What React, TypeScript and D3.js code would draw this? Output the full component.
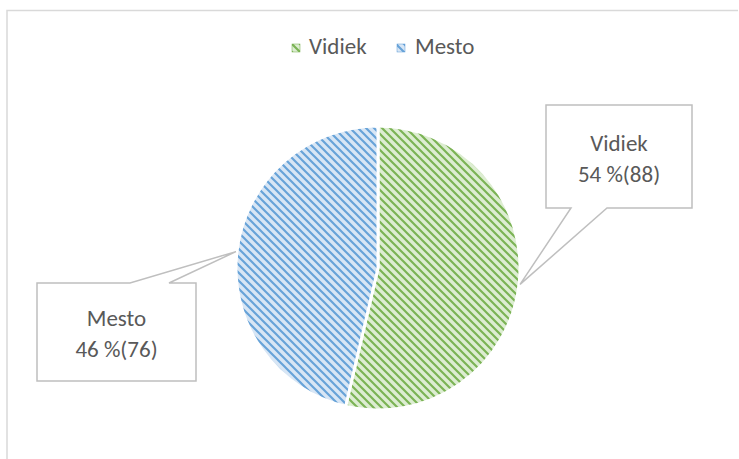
import React from "react";
import * as d3 from "d3";

const categories = ["Vidiek", "Mesto"];
const counts = [88, 76];
const darkColors = ["#70AD47", "#5B9BD5"];
const lightColors = ["#DDEDD2", "#D8E6F5"];

const W = 739;
const H = 459;
const cx = 378;
const cy = 268;
const R = 142;
const FONT = "Carlito, 'Open Sans', 'Noto Sans', sans-serif";
const TEXT = "#595959";
const FS = 23;

// callout boxes (layout)
const boxes = [
  { x: 546, y: 105, w: 146, h: 103, base: [571, 607], edge: "bottom" },
  { x: 37, y: 283, w: 159, h: 98, base: [130, 169], edge: "top" },
];

export default function App() {
  const total = d3.sum(counts);
  const pie = d3
    .pie<number>()
    .sort(null)
    .startAngle(0)
    .endAngle(2 * Math.PI)
    .value((d) => d);
  const arcs = pie(counts);
  const arc = d3.arc<d3.PieArcDatum<number>>().innerRadius(0).outerRadius(R);

  const legendItems = [
    { sq: 292, tx: 309 },
    { sq: 397, tx: 415 },
  ];

  return (
    <svg
      width={W}
      height={H}
      style={{ position: "absolute", left: 0, top: 0, background: "#fff" }}
      fontFamily={FONT}
    >
      <defs>
        {categories.map((c, i) => (
          <pattern
            key={c}
            id={`pat${i}`}
            patternUnits="userSpaceOnUse"
            width={8}
            height={8}
          >
            <rect width={8} height={8} fill={lightColors[i]} />
            <path
              d="M-2,-2 L10,10 M-2,6 L2,10 M6,-2 L10,2"
              stroke={darkColors[i]}
              strokeWidth={2.2}
              strokeOpacity={0.9}
            />
          </pattern>
        ))}
      </defs>
      <rect x={0} y={0} width={W} height={H} fill="#fff" />
      <path
        d={`M7,${H} L7,10.5 L738,10.5`}
        fill="none"
        stroke="#D9D9D9"
        strokeWidth={1.5}
      />

      {/* legend */}
      {categories.map((c, i) => (
        <g key={c}>
          <rect
            x={legendItems[i].sq}
            y={44}
            width={8}
            height={8}
            fill={`url(#pat${i})`}
            stroke={darkColors[i]}
            strokeWidth={0.5}
          />
          <text x={legendItems[i].tx} y={54} fontSize={FS} fill={TEXT}>
            {c}
          </text>
        </g>
      ))}

      {/* pie */}
      <g transform={`translate(${cx},${cy})`}>
        {arcs.map((a, i) => (
          <path
            key={categories[i]}
            d={arc(a) || ""}
            fill={`url(#pat${i})`}
            stroke="#fff"
            strokeWidth={3}
          />
        ))}
      </g>

      {/* callouts */}
      {arcs.map((a, i) => {
        const mid = (a.startAngle + a.endAngle) / 2;
        const tx = cx + (R + 1) * Math.sin(mid);
        const ty = cy - (R + 1) * Math.cos(mid);
        const b = boxes[i];
        const x0 = b.x,
          x1 = b.x + b.w,
          y0 = b.y,
          y1 = b.y + b.h;
        let d: string;
        if (b.edge === "bottom") {
          d = `M${x0},${y0} L${x1},${y0} L${x1},${y1} L${b.base[1]},${y1} L${tx},${ty} L${b.base[0]},${y1} L${x0},${y1} Z`;
        } else {
          d = `M${x0},${y0} L${b.base[0]},${y0} L${tx},${ty} L${b.base[1]},${y0} L${x1},${y0} L${x1},${y1} L${x0},${y1} Z`;
        }
        const pct = Math.round((counts[i] / total) * 100);
        const mx = b.x + b.w / 2;
        const my = b.y + b.h / 2;
        return (
          <g key={categories[i]}>
            <path d={d} fill="#fff" stroke="#BFBFBF" strokeWidth={1.5} />
            <text
              x={mx}
              y={my - 6}
              textAnchor="middle"
              fontSize={FS}
              fill={TEXT}
            >
              {categories[i]}
            </text>
            <text
              x={mx}
              y={my + 25}
              textAnchor="middle"
              fontSize={FS}
              fill={TEXT}
            >
              {`${pct} %(${counts[i]})`}
            </text>
          </g>
        );
      })}
    </svg>
  );
}
